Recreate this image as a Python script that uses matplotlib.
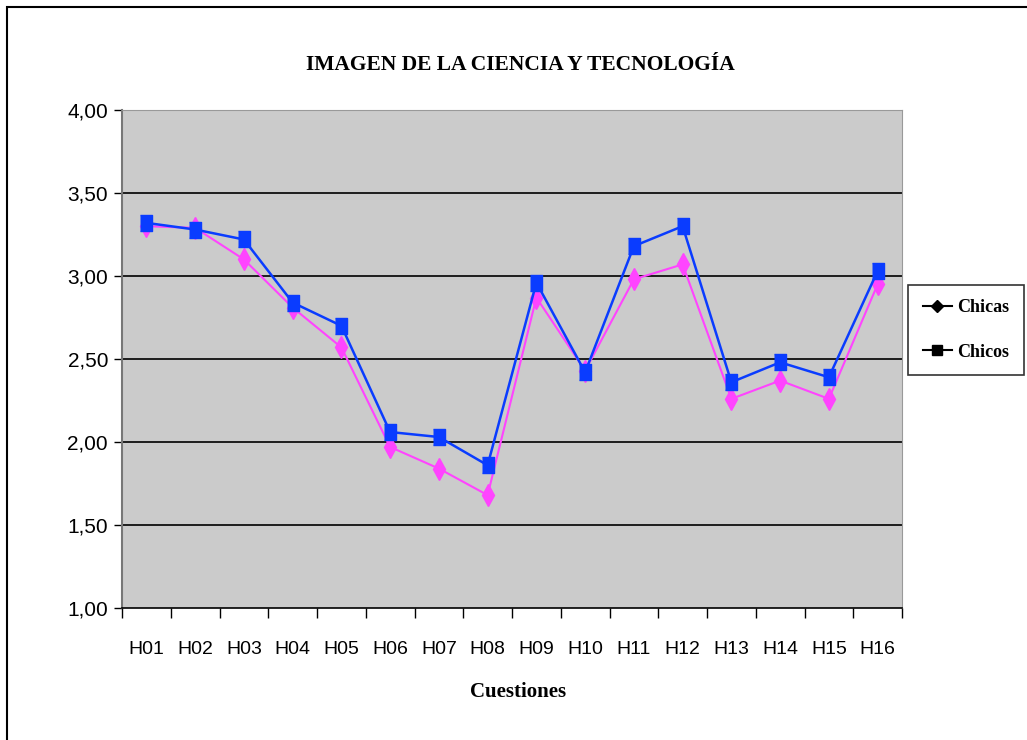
import matplotlib.pyplot as plt
import matplotlib.patches as patches
from matplotlib.lines import Line2D
from matplotlib.ticker import FixedLocator

# data
cuestiones = ["H01", "H02", "H03", "H04", "H05", "H06", "H07", "H08",
              "H09", "H10", "H11", "H12", "H13", "H14", "H15", "H16"]
chicas = [3.30, 3.29, 3.10, 2.81, 2.57, 1.97, 1.84, 1.68,
          2.87, 2.43, 2.98, 3.07, 2.26, 2.37, 2.26, 2.95]
chicos = [3.32, 3.28, 3.22, 2.84, 2.70, 2.06, 2.03, 1.86,
          2.96, 2.42, 3.18, 3.30, 2.36, 2.48, 2.39, 3.03]
yticks = [1.0, 1.5, 2.0, 2.5, 3.0, 3.5, 4.0]

W, H = 1027, 740
NARROW = ['Liberation Sans Narrow', 'Liberation Sans', 'DejaVu Sans']
SERIF = ['Liberation Serif', 'DejaVu Serif']

fig = plt.figure(figsize=(W / 100, H / 100), dpi=100)
ax = fig.add_axes([122 / W, 1 - 608 / H, (902 - 122) / W, (608 - 110) / H])
ax.set_facecolor('#CBCBCB')

x = list(range(len(cuestiones)))
rect = [(-0.75, -1), (0.75, -1), (0.75, 1), (-0.75, 1)]
ax.plot(x, chicas, color='#FF44FF', lw=1.5, marker='d', ms=11,
        mec='#FF44FF', mfc='#FF44FF', zorder=3)
ax.plot(x, chicos, color='#0A3CFF', lw=1.8, marker=rect, ms=11,
        mec='#0A3CFF', mfc='#0A3CFF', zorder=4)

ax.set_xlim(-0.5, len(cuestiones) - 0.5)
ax.set_ylim(1.0, 4.0)
ax.set_yticks(yticks)
ax.set_yticklabels([f"{v:.2f}".replace('.', ',') for v in yticks],
                   family=NARROW, fontsize=15)
ax.set_xticks(x)
ax.set_xticklabels(cuestiones, family=NARROW, fontsize=14)
ax.xaxis.set_minor_locator(FixedLocator([i - 0.5 for i in range(len(cuestiones) + 1)]))
ax.tick_params(axis='x', which='major', length=0, pad=24)
ax.tick_params(axis='x', which='minor', length=7, width=1, color='black', direction='out')
ax.tick_params(axis='y', length=6, width=1, color='black', direction='out', pad=4)

for v in yticks[1:-1]:
    ax.axhline(v, color='black', lw=1.2, zorder=1)

ax.spines['left'].set_color('#777777')
ax.spines['left'].set_linewidth(1.5)
ax.spines['bottom'].set_color('black')
ax.spines['bottom'].set_linewidth(1.2)
ax.spines['top'].set_color('#999999')
ax.spines['right'].set_color('#999999')

fig.text(520 / W, 1 - 65 / H, "IMAGEN DE LA CIENCIA Y TECNOLOGÍA",
         family=SERIF, fontweight='bold', fontsize=15.5, ha='center', va='center')
fig.text(518 / W, 1 - 692 / H, "Cuestiones",
         family=SERIF, fontweight='bold', fontsize=15, ha='center', va='center')

handles = [Line2D([], [], color='black', lw=1.5, marker='D', ms=6),
           Line2D([], [], color='black', lw=1.5, marker='s', ms=7)]
leg = fig.legend(handles, ["Chicas", "Chicos"], loc='center',
                 bbox_to_anchor=(966 / W, 1 - 330 / H),
                 prop={'family': SERIF, 'weight': 'bold', 'size': 13},
                 frameon=True, fancybox=False, edgecolor='black',
                 handlelength=1.6, handletextpad=0.3, labelspacing=1.5,
                 borderpad=0.8, borderaxespad=0)
leg.get_frame().set_linewidth(1.2)

# outer chart frame (only top and left edges fall inside the picture)
fig.patches.append(patches.Rectangle((7 / W, -0.1), 1.2, 1 - 7 / H + 0.1,
                                     transform=fig.transFigure, fill=False,
                                     edgecolor='black', lw=1.5))

fig.savefig("out.png", dpi=100)
